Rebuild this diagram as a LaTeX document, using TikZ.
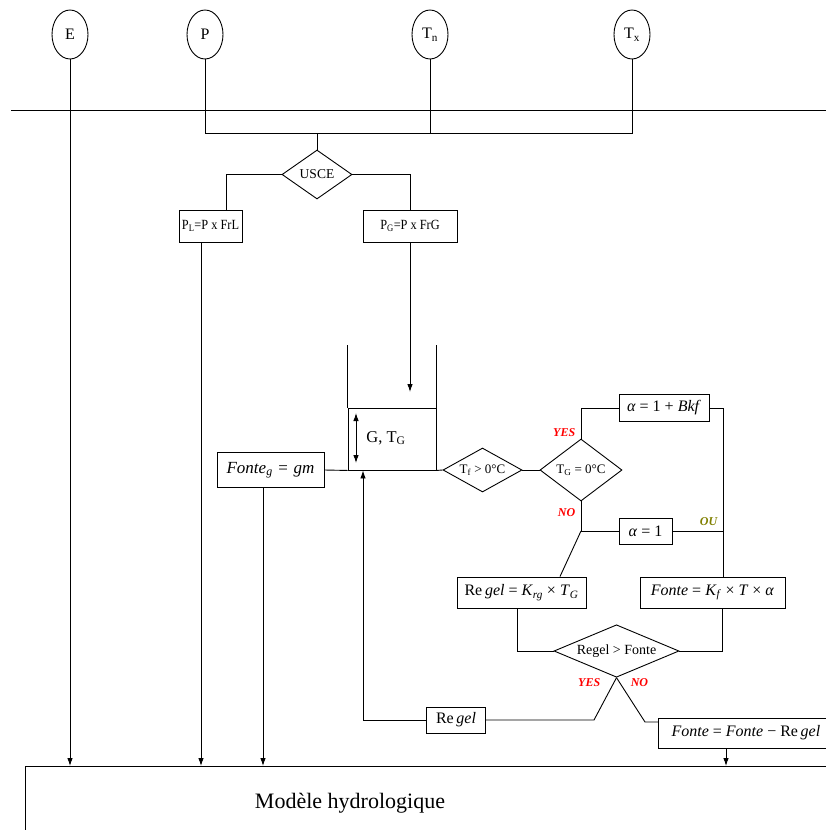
\documentclass[tikz,border=0pt]{standalone}
\usepackage{graphicx}
\usepackage{fontspec}
\setmainfont{Liberation Serif}
\usetikzlibrary{shapes.geometric,arrows.meta}
\definecolor{ouolive}{RGB}{128,128,0}
\newcommand{\mi}[1]{\textit{#1}}
\newcommand{\fsz}[1]{\fontsize{#1}{#1}\selectfont}
\newcommand{\narrow}[1]{\scalebox{0.88}[1]{#1}}

\begin{document}
\begin{tikzpicture}[x=1pt, y=-1pt, line width=0.9pt,
  flow/.style={-{Latex[length=8pt,width=5.5pt]}},
  both/.style={{Latex[length=8pt,width=5.5pt]}-{Latex[length=8pt,width=5.5pt]}},
  var/.style={draw, ellipse, minimum width=36pt, minimum height=49pt, inner sep=0pt, font=\fsz{16}},
  calc/.style={draw, rectangle, inner sep=0pt, font=\fsz{16}},
  test/.style={draw, diamond, aspect=2, inner sep=0pt, font=\fsz{13}},
  yesno/.style={text=red, font=\fsz{12}\bfseries\itshape}]
  \useasboundingbox (0,0) rectangle (826,830);

  %% variables d'entrée
  \node[var] (E)  at (70,34.5)  {E};
  \node[var] (P)  at (205,34.5) {P};
  \node[var] (Tn) at (430,34.5) {T\textsubscript{n}};
  \node[var] (Tx) at (632,34.5) {T\textsubscript{x}};

  %% ligne de séparation
  \coordinate (ruleL) at (11,110);
  \coordinate (ruleR) at (826,110);
  \draw (ruleL) -- (ruleR);

  %% bus P, Tn, Tx
  \coordinate (busP) at (205,133);
  \coordinate (busX) at (632,133);
  \draw (P.south) -- (busP) -- (busX) -- (Tx.south);
  \draw (Tn.south) -- (Tn.south |- busP);

  %% partage liquide / solide
  \node[test, minimum width=70pt, minimum height=49pt, font=\fsz{13.5}] (usce) at (317,174.5) {USCE};
  \draw (usce.north) -- (usce.north |- busP);
  \node[calc, minimum width=63pt, minimum height=32pt, font=\fsz{14}] (pl) at (210.5,226) {\narrow{P\textsubscript{L}=P x FrL}};
  \node[calc, minimum width=94pt, minimum height=32pt, font=\fsz{14}] (pg) at (410,226) {\narrow{P\textsubscript{G}=P x FrG}};
  \draw (usce.west) -| ([xshift=15.5pt]pl.north);
  \draw (usce.east) -| (pg.north);

  %% réservoir neige
  \node[draw, minimum width=88pt, minimum height=62pt, inner sep=0pt] (store) at (392,439) {};
  \draw (store.north west) -- ++(0,-63);
  \draw (store.north east) -- ++(0,-63);
  \node[font=\fsz{16.5}] (gtg) at (386,438) {G, T\textsubscript{G}};
  \coordinate (gtop) at (356,413);
  \coordinate (gbot) at (356,463);
  \draw[both] (gtop) -- (gbot);
  \coordinate (inflow) at (410,392);
  \draw[flow] (pg.south) -- (inflow);

  %% fonte au sol
  \node[calc, minimum width=107pt, minimum height=35pt, font=\fsz{17}] (fg) at (270.5,470)
    {\mi{Fonte}\textsubscript{\mi{g}}\,\,=\,\,\mi{gm}};
  \draw (fg.east) -- (store.south west);

  %% tests de température
  \node[test, minimum width=79pt, minimum height=44pt] (tf) at (482.5,470) {T\textsubscript{f} > 0°C};
  \draw (store.south east) -- (tf.west);
  \node[test, minimum width=82pt, minimum height=62pt] (tg) at (581,470) {T\textsubscript{G} = 0°C};
  \draw (tf.east) -- (tg.west);

  %% branche YES : alpha = 1 + Bkf
  \node[calc, minimum width=90pt, minimum height=27pt] (bkf) at (664,408) {\mi{α} = 1 + \mi{Bkf}};
  \draw (tg.north) |- (bkf.west);
  \node[yesno, anchor=east] (yes1) at (579,433) {YES};

  %% branche NO : alpha = 1
  \node[calc, minimum width=53pt, minimum height=26pt] (a1) at (645.5,531) {\mi{α} = 1};
  \coordinate (nojct) at (581,531);
  \draw (tg.south) -- (nojct) -- (a1.west);
  \node[yesno, anchor=east] (no1) at (579,513) {NO};

  %% fonte et regel
  \node[calc, minimum width=145pt, minimum height=31pt] (fonte) at (712.5,592.5)
    {\mi{Fonte} = \mi{K}\textsubscript{\mi{f}} × \mi{T} × \mi{α}};
  \coordinate (oujct) at (723,531);
  \draw (bkf.east) -- (bkf.east -| oujct) -- (fonte.north -| oujct);
  \draw (a1.east) -- (oujct);
  \node[font=\fsz{12}\bfseries\itshape, text=ouolive, anchor=south east] (ou) at (721,529) {OU};

  \node[calc, minimum width=129pt, minimum height=31pt] (rg) at (521.5,592.5)
    {Re\,\mi{gel} = \mi{K}\textsubscript{\mi{rg}} × \mi{T}\textsubscript{\mi{G}}};
  \draw (nojct) -- ([xshift=38.5pt]rg.north);

  %% comparaison
  \node[test, minimum width=125pt, minimum height=48pt, font=\fsz{14}] (cmp) at (616.5,651) {Regel > Fonte};
  \draw ([xshift=-4.5pt]rg.south) |- (cmp.west);
  \draw ([xshift=9.5pt]fonte.south) |- (cmp.east);
  \node[yesno, anchor=east] (yes2) at (604,683) {YES};
  \node[yesno, anchor=west] (no2) at (627,683) {NO};

  %% YES : regel vers le réservoir
  \node[calc, minimum width=59pt, minimum height=26pt] (rgl) at (456,720) {Re\,\mi{gel}};
  \coordinate (yesbend) at (594,720);
  \draw (cmp.south) -- (yesbend) -- (rgl.east);
  \coordinate (backup) at (363,720);
  \draw[flow] (rgl.west) -- (backup) -- (backup |- store.south);

  %% NO : fonte nette
  \node[calc, minimum width=175pt, minimum height=30pt, anchor=west] (ffr) at (658,733)
    {\mi{Fonte} = \mi{Fonte} − Re\,\mi{gel}};
  \coordinate (nobend) at (645,722);
  \draw (cmp.south) -- (nobend) -- (nobend -| ffr.west);

  %% modèle hydrologique
  \node[draw, minimum width=815pt, minimum height=84pt, anchor=north west, inner sep=0pt] (model) at (25,766) {};
  \node[font=\fsz{22}] (mtxt) at (350,803) {Modèle hydrologique};

  \coordinate (plout) at ([xshift=-9.5pt]pl.south);
  \coordinate (fgout) at ([xshift=-7.5pt]fg.south);
  \coordinate (ffrout) at (726,748);
  \draw[flow] (E.south) -- (E.south |- model.north);
  \draw[flow] (plout) -- (plout |- model.north);
  \draw[flow] (fgout) -- (fgout |- model.north);
  \draw[flow] (ffrout) -- (ffrout |- model.north);
\end{tikzpicture}
\end{document}
